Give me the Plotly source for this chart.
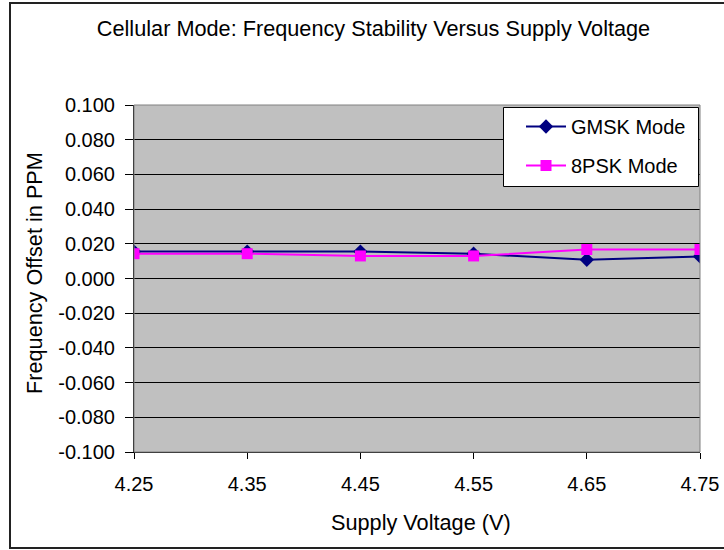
import plotly.graph_objects as go

voltage = [4.25, 4.35, 4.45, 4.55, 4.65, 4.75]
gmsk = [0.0155, 0.0155, 0.0155, 0.0143, 0.0108, 0.0127]
psk8 = [0.0143, 0.0143, 0.0130, 0.0130, 0.0167, 0.0167]
y_ticks = [0.1 - 0.02 * i for i in range(11)]
y_labels = ["%.3f" % v if abs(v) > 1e-9 else "0.000" for v in y_ticks]
x_labels = ["%.2f" % v for v in voltage]

fig = go.Figure()
fig.add_trace(go.Scatter(x=voltage, y=gmsk, name="GMSK Mode", mode="lines+markers",
                         legendgroup="a",
                         line=dict(color="#000080", width=2),
                         marker=dict(symbol="diamond", size=11, color="#000080")))
fig.add_trace(go.Scatter(x=voltage, y=psk8, name="8PSK Mode", mode="lines+markers",
                         legendgroup="b",
                         line=dict(color="#FF00FF", width=2),
                         marker=dict(symbol="square", size=11, color="#FF00FF")))

W, H = 724, 550
L, R, T, B = 134, 24, 105, 98
pw, ph = W - L - R, H - T - B

def px(x):
    return (x - L) / pw

def py(y):
    return (H - B - y) / ph

FS = 20
FT = 21.7
fig.update_layout(
    width=W, height=H,
    margin=dict(l=L, r=R, t=T, b=B, autoexpand=False),
    paper_bgcolor="white",
    plot_bgcolor="#C0C0C0",
    font=dict(family="Liberation Sans, Arial", size=FS, color="black"),
    title=dict(text="Cellular Mode: Frequency Stability Versus Supply Voltage",
               x=373.5 / W, xanchor="center", xref="container",
               y=1 - 28 / H, yanchor="middle",
               font=dict(size=FT)),
    showlegend=True,
    legend=dict(x=px(521), y=py(107), xanchor="left", yanchor="top",
                bgcolor="rgba(0,0,0,0)", borderwidth=0,
                font=dict(size=FS), traceorder="grouped", tracegroupgap=10,
                itemwidth=40),
    xaxis=dict(range=[4.25, 4.75], tickvals=voltage, ticktext=x_labels,
               showgrid=False, zeroline=False, automargin=False,
               ticks="outside", ticklen=6, tickcolor="black",
               ticklabelstandoff=8,
               showline=True, linecolor="black", linewidth=1),
    yaxis=dict(range=[-0.1, 0.1], tickvals=y_ticks, ticktext=y_labels,
               showgrid=True, gridcolor="black", gridwidth=1, zeroline=False,
               automargin=False,
               ticks="outside", ticklen=8, tickcolor="black",
               ticklabelstandoff=6,
               showline=True, linecolor="black", linewidth=1),
    annotations=[
        dict(text="Frequency Offset in PPM", xref="paper", yref="paper",
             x=px(34), y=py(273), textangle=-90, showarrow=False,
             xanchor="center", yanchor="middle", font=dict(size=FT)),
        dict(text="Supply Voltage (V)", xref="paper", yref="paper",
             x=px(421), y=py(522), showarrow=False,
             xanchor="center", yanchor="middle", font=dict(size=FT)),
    ],
    shapes=[
        dict(type="rect", xref="paper", yref="paper",
             x0=px(10), x1=px(760), y0=py(548), y1=py(3),
             line=dict(color="#222222", width=2), fillcolor="rgba(0,0,0,0)", layer="below"),
        dict(type="rect", xref="paper", yref="paper",
             x0=0, x1=1, y0=0, y1=1,
             line=dict(color="#808080", width=1), fillcolor="rgba(0,0,0,0)"),
        dict(type="rect", xref="paper", yref="paper",
             x0=px(503.5), x1=px(698.5), y0=py(186.5), y1=py(107.5),
             line=dict(color="black", width=1), fillcolor="white", layer="above"),
    ],
)

fig.write_html("out.html", config={"displayModeBar": False})
with open("out.html", "r", encoding="utf-8") as f:
    html = f.read()
html = html.replace("<body>", "<body style=\"margin:0;padding:0;overflow:hidden\">", 1)
with open("out.html", "w", encoding="utf-8") as f:
    f.write(html)
